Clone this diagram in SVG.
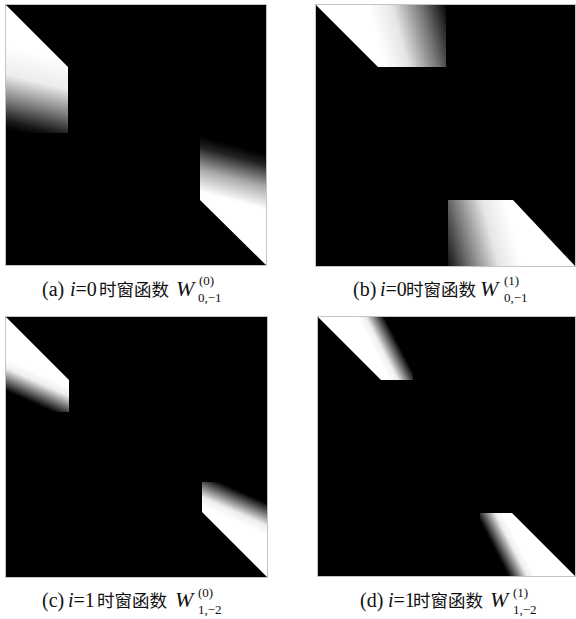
<svg xmlns="http://www.w3.org/2000/svg" width="576" height="619" viewBox="0 0 576 619">
<style>
.bg{fill:#000;stroke:#c4c4c4;stroke-width:1}
.cap{font-family:"Liberation Serif",serif;font-size:20px;fill:#111}
.w{font-size:22px}
.cn{font-family:"Noto Sans CJK SC",sans-serif;font-size:17.5px;fill:#111}
.sc{font-family:"Liberation Serif",serif;font-size:13px;fill:#111}
.it{font-style:italic}
</style>
<defs>
<linearGradient id="ga1" gradientUnits="userSpaceOnUse" x1="5" y1="45" x2="-14" y2="124">
<stop offset="0" stop-color="#fff"/><stop offset="0.35" stop-color="#ececec"/><stop offset="0.65" stop-color="#808080"/><stop offset="0.9" stop-color="#1a1a1a"/><stop offset="1" stop-color="#000"/>
</linearGradient>
<linearGradient id="ga2" gradientUnits="userSpaceOnUse" x1="200" y1="136" x2="186" y2="188">
<stop offset="0" stop-color="#000"/><stop offset="0.2" stop-color="#222"/><stop offset="0.6" stop-color="#aaa"/><stop offset="1" stop-color="#fff"/>
</linearGradient>
<linearGradient id="gb1" gradientUnits="userSpaceOnUse" x1="372" y1="20" x2="446" y2="0">
<stop offset="0" stop-color="#fff"/><stop offset="0.3" stop-color="#e6e6e6"/><stop offset="0.7" stop-color="#6a6a6a"/><stop offset="1" stop-color="#000"/>
</linearGradient>
<linearGradient id="gb2" gradientUnits="userSpaceOnUse" x1="519" y1="251" x2="445" y2="271">
<stop offset="0" stop-color="#fff"/><stop offset="0.3" stop-color="#e6e6e6"/><stop offset="0.7" stop-color="#6a6a6a"/><stop offset="1" stop-color="#000"/>
</linearGradient>
<linearGradient id="gc1" gradientUnits="userSpaceOnUse" x1="5" y1="358" x2="-7" y2="385">
<stop offset="0" stop-color="#fff"/><stop offset="0.3" stop-color="#eee"/><stop offset="0.7" stop-color="#666"/><stop offset="1" stop-color="#000"/>
</linearGradient>
<linearGradient id="gc2" gradientUnits="userSpaceOnUse" x1="268" y1="536" x2="280" y2="509">
<stop offset="0" stop-color="#fff"/><stop offset="0.3" stop-color="#eee"/><stop offset="0.7" stop-color="#666"/><stop offset="1" stop-color="#000"/>
</linearGradient>
<linearGradient id="gd1" gradientUnits="userSpaceOnUse" x1="357" y1="316" x2="378.3" y2="305">
<stop offset="0" stop-color="#fff"/><stop offset="0.3" stop-color="#eee"/><stop offset="0.7" stop-color="#666"/><stop offset="1" stop-color="#000"/>
</linearGradient>
<linearGradient id="gd2" gradientUnits="userSpaceOnUse" x1="536" y1="577" x2="514.7" y2="588">
<stop offset="0" stop-color="#fff"/><stop offset="0.3" stop-color="#eee"/><stop offset="0.7" stop-color="#666"/><stop offset="1" stop-color="#000"/>
</linearGradient>
</defs>
<rect width="576" height="619" fill="#fff"/>

<g id="panel-a">
<rect class="bg" x="5.5" y="4.5" width="261" height="261"/>
<polygon points="6,5 68,67 68,133 6,133" fill="url(#ga1)"/>
<polygon points="200,136 266,136 266,265 200,200" fill="url(#ga2)"/>
<text class="cap" y="296"><tspan x="42">(a)</tspan><tspan x="70" class="it">i</tspan><tspan>=0</tspan></text>
<text class="cn" x="99" y="296">时窗函数</text>
<text class="cap it w" x="176" y="296">W</text>
<text class="sc" x="199" y="285">(0)</text>
<text class="sc" x="198" y="302">0,−1</text>
</g>

<g id="panel-b">
<rect class="bg" x="315.5" y="4.5" width="260" height="262"/>
<polygon points="316,5 446,5 446,67 378,67" fill="url(#gb1)"/>
<polygon points="448,200 513,200 575,266 448,266" fill="url(#gb2)"/>
<text class="cap" y="296"><tspan x="353">(b)</tspan><tspan x="380" class="it">i</tspan><tspan>=0</tspan></text>
<text class="cn" x="406" y="296">时窗函数</text>
<text class="cap it w" x="480" y="296">W</text>
<text class="sc" x="504" y="285">(1)</text>
<text class="sc" x="504" y="302">0,−1</text>
</g>

<g id="panel-c">
<rect class="bg" x="5.5" y="316.5" width="262" height="261"/>
<polygon points="6,317 69,380 69,412 6,412" fill="url(#gc1)"/>
<polygon points="202,482 267,482 267,577 202,512" fill="url(#gc2)"/>
<text class="cap" y="607"><tspan x="42">(c)</tspan><tspan x="68" class="it">i</tspan><tspan>=1</tspan></text>
<text class="cn" x="97" y="607">时窗函数</text>
<text class="cap it w" x="175" y="607">W</text>
<text class="sc" x="198" y="597">(0)</text>
<text class="sc" x="198" y="614">1,−2</text>
</g>

<g id="panel-d">
<rect class="bg" x="317.5" y="316.5" width="258" height="260"/>
<polygon points="318,317 381,380 413,380 413,317" fill="url(#gd1)"/>
<polygon points="575,576 512,513 480,513 480,576" fill="url(#gd2)"/>
<text class="cap" y="607"><tspan x="360">(d)</tspan><tspan x="388" class="it">i</tspan><tspan>=1</tspan></text>
<text class="cn" x="413" y="607">时窗函数</text>
<text class="cap it w" x="490" y="607">W</text>
<text class="sc" x="513" y="597">(1)</text>
<text class="sc" x="513" y="614">1,−2</text>
</g>
</svg>
